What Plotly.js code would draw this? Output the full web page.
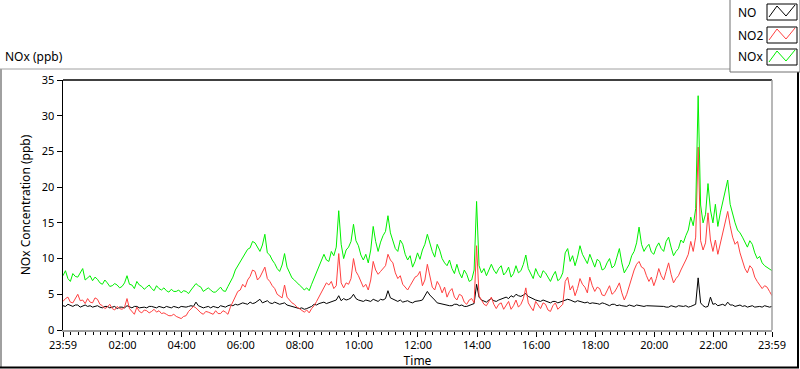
<!DOCTYPE html>
<html>
<head>
<meta charset="utf-8">
<script src="https://cdn.plot.ly/plotly-3.0.1.min.js"></script>
<style>html,body{margin:0;padding:0;background:#fff;}#chart{width:800px;height:369px;}</style>
</head>
<body>
<div id="chart"></div>
<script>
// ---- data (5-minute samples, starting at 23:59) ----
const seriesNames = ['NO', 'NO2', 'NOx'];
const seriesColors = ['#000000', '#ff4040', '#00f000'];
const tickLabels = ['23:59','02:00','04:00','06:00','08:00','10:00','12:00','14:00','16:00','18:00','20:00','22:00','23:59'];
const tickHours = [0, 2.0167, 4.0167, 6.0167, 8.0167, 10.0167, 12.0167, 14.0167, 16.0167, 18.0167, 20.0167, 22.0167, 24];

const NO = [
 3.4,3.3,3.6,3.4,3.3,3.5,3.5,3.2,3.4,3.5,3.3,3.4,
 3.2,3.3,3.4,3.2,3.1,3.3,3.3,3.1,3.2,3.3,3.0,3.2,
 3.2,3.1,3.4,3.2,3.1,3.3,3.3,3.1,3.2,3.2,3.1,3.3,
 3.3,3.2,3.1,3.3,3.2,3.1,3.3,3.2,3.1,3.3,3.2,3.1,
 3.3,3.2,3.2,3.3,3.4,3.3,3.9,3.4,3.3,3.1,3.2,3.3,
 3.1,3.3,3.2,3.1,3.4,3.3,3.2,3.4,3.5,3.4,3.6,3.5,
 3.6,3.8,3.7,3.6,3.9,3.7,3.8,4.0,4.3,3.8,3.9,4.1,
 3.8,3.7,3.9,3.7,3.6,3.7,3.8,3.5,3.4,3.3,3.2,3.1,
 3.0,3.1,2.9,3.0,3.1,3.3,3.6,3.5,3.7,3.8,3.9,3.7,
 3.8,3.9,4.0,4.2,4.8,4.1,4.4,4.2,4.3,4.5,5.0,4.4,
 4.2,4.1,4.0,4.2,4.1,4.0,4.3,4.1,4.0,4.3,4.2,4.4,
 5.5,4.5,4.3,4.1,4.0,4.2,3.9,4.0,4.1,3.9,3.8,4.0,
 4.0,4.1,4.2,4.8,5.4,4.9,4.6,4.2,3.8,3.7,3.6,3.5,
 3.5,3.4,3.4,3.6,3.6,3.4,3.5,3.3,3.3,3.4,3.5,3.7,
 6.4,4.6,4.2,4.0,3.9,4.2,4.4,4.1,4.0,4.2,4.3,4.5,
 4.6,4.4,4.8,4.6,5.0,4.8,4.7,4.9,5.1,4.7,4.5,4.3,
 4.2,4.1,4.0,4.2,4.1,3.9,3.8,4.0,4.0,3.8,3.9,4.0,
 4.1,4.3,4.2,4.0,3.9,4.1,4.0,3.9,3.8,3.9,3.7,3.8,
 3.8,3.7,3.6,3.8,3.7,3.5,3.4,3.6,3.6,3.4,3.5,3.4,
 3.4,3.3,3.5,3.4,3.3,3.5,3.4,3.3,3.3,3.4,3.4,3.3,
 3.3,3.4,3.4,3.3,3.3,3.2,3.2,3.4,3.3,3.2,3.4,3.3,
 3.3,3.4,3.2,3.3,3.4,3.6,7.3,3.8,3.4,3.2,3.3,4.6,
 3.6,3.7,3.4,3.5,3.6,3.4,3.9,3.5,3.5,3.3,3.4,3.5,
 3.3,3.4,3.2,3.3,3.4,3.2,3.3,3.3,3.2,3.4,3.3,3.2,3.3
];
const NO2 = [
 4.0,4.4,4.6,3.9,3.8,4.5,5.0,4.1,4.2,3.7,4.4,3.9,
 3.8,4.5,4.3,3.6,3.4,3.0,3.2,3.6,3.0,2.8,3.3,3.0,
 2.9,3.2,4.4,3.0,2.6,2.2,3.2,2.6,2.4,2.8,2.7,2.4,
 2.6,2.9,2.5,2.7,2.3,2.4,2.2,2.0,2.0,2.2,1.9,1.8,
 1.6,1.9,2.0,2.6,2.9,3.3,3.1,2.7,2.4,2.2,2.6,2.5,
 2.4,2.2,2.7,2.3,2.3,2.7,2.5,2.2,3.2,4.0,4.8,5.4,
 5.6,6.4,6.0,7.0,7.5,8.4,8.2,7.0,7.4,8.0,8.8,7.2,
 6.8,6.2,5.8,5.0,4.8,4.5,6.3,4.6,4.2,3.8,3.6,3.2,
 3.0,2.8,2.5,2.8,2.4,3.0,3.4,4.0,4.6,5.2,5.8,6.6,
 6.3,6.8,5.8,6.2,10.7,6.6,5.9,6.6,6.4,7.2,10.0,8.2,
 7.6,6.8,6.0,6.4,5.6,7.0,9.6,8.4,7.8,8.2,8.6,9.0,
 10.6,9.8,9.4,8.0,7.2,7.6,6.4,6.0,5.6,6.2,6.8,7.4,
 7.6,8.2,6.2,7.0,9.2,7.4,6.0,5.6,6.8,6.2,5.2,6.0,
 4.6,5.4,5.8,4.6,4.2,5.0,4.8,3.9,3.6,4.2,4.4,3.8,
 11.8,4.8,4.2,3.6,3.4,4.0,4.6,3.6,3.0,3.6,3.8,2.9,
 3.4,4.0,2.9,3.4,4.2,3.2,3.6,4.4,5.9,3.8,3.2,2.7,
 4.0,3.4,3.0,3.8,3.6,2.8,2.6,3.4,3.8,2.9,3.2,3.6,
 6.8,7.4,5.6,6.2,4.8,5.8,7.2,6.4,6.0,5.2,7.4,6.2,
 5.4,6.0,5.8,4.9,4.8,5.6,6.2,5.0,5.3,5.9,6.6,5.2,
 4.2,5.0,6.2,7.4,8.4,9.2,9.6,8.8,8.6,7.6,6.8,7.4,
 6.2,7.2,8.6,7.6,7.0,8.2,9.4,7.8,6.6,7.2,7.6,8.4,
 9.0,9.8,10.6,12.4,11.0,13.0,25.6,12.5,11.2,12.2,16.4,12.6,
 11.0,12.6,10.6,12.2,13.8,15.0,16.6,14.6,13.0,12.0,12.4,10.8,
 9.6,8.6,8.0,9.0,8.6,7.4,6.8,6.2,5.8,6.2,6.0,5.4,4.8
];
const NOx = [
 7.6,8.3,7.2,6.8,7.9,7.5,7.4,8.1,8.6,7.0,7.3,7.6,
 6.9,7.4,7.1,6.6,6.4,7.0,6.6,6.1,6.2,6.5,6.3,5.9,
 6.1,6.6,7.6,6.4,6.3,5.8,6.8,6.3,6.1,5.7,6.0,6.3,
 5.8,5.5,6.2,5.8,5.6,5.9,5.5,5.3,5.7,5.4,5.4,5.6,
 5.2,5.5,5.4,5.1,5.6,6.1,6.5,6.2,6.0,5.4,5.6,5.9,
 5.6,5.3,5.3,5.7,6.0,5.5,5.4,6.1,6.7,7.4,8.4,9.0,
 9.5,10.1,10.6,11.3,11.5,12.4,12.2,11.6,11.0,11.9,13.4,10.8,
 10.5,9.8,9.3,8.6,8.2,9.1,10.7,8.8,8.0,7.3,7.0,6.6,
 6.3,6.0,5.6,5.9,5.5,6.4,7.2,8.2,8.8,9.6,10.6,9.8,
 9.6,11.0,10.4,11.6,16.7,12.0,10.0,11.2,11.6,12.4,14.8,12.5,
 11.8,10.5,9.8,10.6,9.4,11.2,14.5,12.4,11.0,12.3,13.2,13.8,
 16.0,13.6,12.5,11.4,11.0,12.6,12.0,10.6,9.8,10.4,8.8,9.6,
 10.8,9.9,11.2,12.0,13.4,12.2,11.0,10.2,12.0,11.2,10.0,9.4,
 9.0,9.8,8.6,7.9,9.2,8.0,7.3,8.4,7.8,6.8,7.0,8.4,
 18.0,9.0,8.0,8.6,7.6,8.4,9.2,8.4,7.9,8.6,9.0,7.7,
 8.1,8.8,7.4,7.9,9.0,8.0,8.3,9.2,10.5,8.6,8.0,7.2,
 8.6,7.8,7.3,8.3,8.0,7.4,6.8,7.6,8.2,6.9,7.2,8.0,
 10.8,11.4,9.6,10.4,9.0,10.2,11.8,10.6,10.0,9.3,10.6,9.6,
 8.8,9.9,9.6,8.4,8.6,9.4,10.0,8.7,9.0,10.2,11.4,9.4,
 8.0,8.6,9.2,10.4,11.0,12.2,14.4,12.0,11.0,11.6,12.0,10.9,
 10.6,11.6,12.2,11.4,11.0,12.4,13.0,11.6,10.4,11.0,11.4,12.6,
 12.2,13.2,14.0,15.8,14.6,17.0,32.8,17.5,15.0,16.2,20.5,16.8,
 15.0,17.6,14.5,16.4,17.8,19.2,21.0,17.6,16.2,15.0,14.0,13.6,
 13.0,12.2,11.6,12.5,12.0,10.8,10.0,10.3,9.4,9.0,8.8,8.6,8.3
];
const seriesValues = [NO, NO2, NOx];

// sample times in hours after 23:59
const hours = NO.map((_, i) => i / 12);

// ---- layout helpers (pixel -> paper) ----
const L = 63, R = 772, T = 80, B = 330;
const px = x => (x - L) / (R - L);
const py = y => (B - y) / (B - T);
const FONT = '"Noto Sans", "Open Sans", sans-serif';

const traces = seriesNames.map((n, i) => ({
  x: hours, y: seriesValues[i], name: n, type: 'scatter', mode: 'lines',
  line: {color: seriesColors[i], width: 1}, showlegend: false
}));

const shapes = [
  // outer panel frame
  {type:'line', xref:'paper', yref:'paper', x0:px(0), x1:px(730), y0:py(69), y1:py(69), line:{color:'#a0a0a0', width:1}},
  {type:'line', xref:'paper', yref:'paper', x0:px(1), x1:px(1), y0:py(69), y1:py(367), line:{color:'#a0a0a0', width:2}},
  {type:'line', xref:'paper', yref:'paper', x0:px(0), x1:px(799), y0:py(367.5), y1:py(367.5), line:{color:'#000', width:2}},
  {type:'line', xref:'paper', yref:'paper', x0:px(798), x1:px(798), y0:py(70), y1:py(368), line:{color:'#000', width:2}},
  // plot frame top and right
  {type:'line', xref:'paper', yref:'paper', x0:0, x1:1, y0:1, y1:1, line:{color:'#000', width:1.5}},
  {type:'line', xref:'paper', yref:'paper', x0:1, x1:1, y0:0, y1:1, line:{color:'#a0a0a0', width:1.5}},
  // legend panel
  {type:'rect', xref:'paper', yref:'paper', x0:px(730), x1:px(800), y0:py(72), y1:py(-2), fillcolor:'#fff', line:{color:'#707070', width:1}}
];
const annotations = [
  {text:'NOx (ppb)', xref:'paper', yref:'paper', x:px(3), y:py(57), xanchor:'left', yanchor:'middle', showarrow:false, font:{family:FONT, size:12, color:'#000'}}
];
const rowY = [12, 35, 57];
seriesNames.forEach((n, i) => {
  const cy = rowY[i];
  annotations.push({text:n, xref:'paper', yref:'paper', x:px(736), y:py(cy), xanchor:'left', yanchor:'middle', showarrow:false, font:{family:FONT, size:12, color:'#000'}});
  shapes.push({type:'rect', xref:'paper', yref:'paper', x0:px(767), x1:px(797), y0:py(cy+8), y1:py(cy-8), fillcolor:'#fff', line:{color:'#000', width:1}});
  const pts = [[769, cy+5], [777, cy-6], [786, cy+4], [795, cy-7]];
  const path = 'M ' + pts.map(p => px(p[0]) + ',' + py(p[1])).join(' L ');
  shapes.push({type:'path', xref:'paper', yref:'paper', path:path, line:{color:seriesColors[i], width:1}});
});

const layout = {
  width: 800, height: 369,
  margin: {l: L, r: 800 - R, t: T, b: 369 - B, pad: 0},
  paper_bgcolor: '#fff', plot_bgcolor: '#fff',
  showlegend: false,
  font: {family: FONT, size: 12, color: '#000'},
  xaxis: {
    range: [0, 24], tickmode: 'array', tickvals: tickHours, ticktext: tickLabels,
    ticks: 'outside', ticklen: 5, tickwidth: 1, tickcolor: '#000',
    ticklabelstandoff: -1,
    minor: {dtick: 0.25, tick0: 1/60, ticks: 'outside', ticklen: 3, tickcolor: '#000', showgrid: false},
    showline: true, linecolor: '#a0a0a0', linewidth: 1.5,
    showgrid: false, zeroline: false, automargin: false,
    tickfont: {family: FONT, size: 11, color: '#000'},
    title: {text: 'Time', font: {family: FONT, size: 12, color: '#000'}, standoff: 7}
  },
  yaxis: {
    range: [0, 35], dtick: 5, tick0: 0,
    ticks: 'outside', ticklen: 5, tickwidth: 1, tickcolor: '#000',
    showline: true, linecolor: '#000', linewidth: 1.5,
    showgrid: false, zeroline: false, automargin: false,
    tickfont: {family: FONT, size: 11, color: '#000'},
    title: {text: 'NOx Concentration (ppb)', font: {family: FONT, size: 12, color: '#000'}, standoff: 8}
  },
  shapes: shapes,
  annotations: annotations
};

Plotly.newPlot('chart', traces, layout, {displayModeBar: false, staticPlot: true});
</script>
</body>
</html>
